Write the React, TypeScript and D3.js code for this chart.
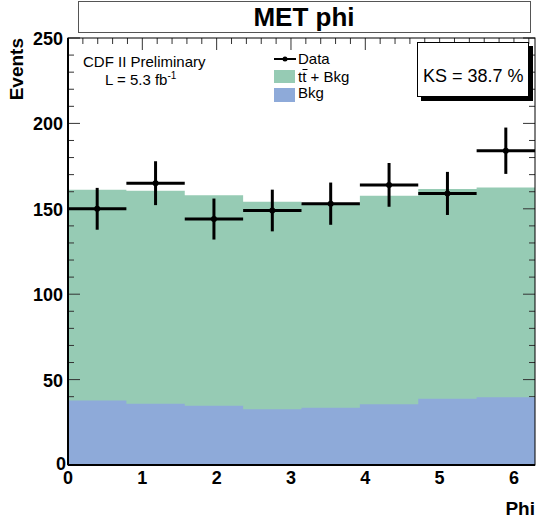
import React from "react";
import * as d3 from "d3";

const title = "MET phi";
const xLabel = "Phi";
const yLabel = "Events";
const nBins = 8;
const xMax = 2 * Math.PI;
const yMax = 250;
const bkg = [37.8, 35.9, 34.7, 32.7, 33.5, 35.5, 38.8, 39.6];
const ttBkg = [161.2, 160.6, 158.0, 154.1, 153.1, 157.6, 161.6, 162.5];
const dataCounts = [150, 165, 144, 149, 153, 164, 159, 184];
const xTicks = [0, 1, 2, 3, 4, 5, 6];
const yTicks = [0, 50, 100, 150, 200, 250];
const ksText = "KS = 38.7 %";

const W = 536;
const H = 524;
const L = 68, R = 535, T = 38, B = 465;
const FONT = "'Liberation Sans', Arial, Helvetica, sans-serif";
const GREEN = "#96cbb4";
const BLUE = "#8eaad9";

export default function App() {
  const x = d3.scaleLinear().domain([0, xMax]).range([L, R]);
  const y = d3.scaleLinear().domain([0, yMax]).range([B, T]);
  const bw = xMax / nBins;
  const edges = d3.range(nBins).map((i) => [i * bw, (i + 1) * bw]);

  const stepArea = (vals: number[]) => {
    const pts: [number, number][] = [];
    vals.forEach((v, i) => {
      pts.push([edges[i][0], v]);
      pts.push([edges[i][1], v]);
    });
    return d3
      .area<[number, number]>()
      .x((d) => x(d[0]))
      .y0(y(0))
      .y1((d) => y(d[1]))(pts) as string;
  };

  const xMinor = d3.range(0, xMax + 1e-9, 0.2).filter((v) => Math.abs(v - Math.round(v)) > 1e-6);
  const yMinor = d3.range(0, yMax + 1e-9, 10).filter((v) => v % 50 !== 0);

  const ticks: JSX.Element[] = [];
  xTicks.forEach((v, i) => {
    ticks.push(<line key={"xb" + i} x1={x(v)} x2={x(v)} y1={B} y2={B - 12} />);
    ticks.push(<line key={"xt" + i} x1={x(v)} x2={x(v)} y1={T} y2={T + 12} />);
  });
  xMinor.forEach((v, i) => {
    ticks.push(<line key={"xbm" + i} x1={x(v)} x2={x(v)} y1={B} y2={B - 6} />);
    ticks.push(<line key={"xtm" + i} x1={x(v)} x2={x(v)} y1={T} y2={T + 6} />);
  });
  yTicks.forEach((v, i) => {
    ticks.push(<line key={"yl" + i} x1={L} x2={L + 12} y1={y(v)} y2={y(v)} />);
    ticks.push(<line key={"yr" + i} x1={R} x2={R - 12} y1={y(v)} y2={y(v)} />);
  });
  yMinor.forEach((v, i) => {
    ticks.push(<line key={"ylm" + i} x1={L} x2={L + 6} y1={y(v)} y2={y(v)} />);
    ticks.push(<line key={"yrm" + i} x1={R} x2={R - 6} y1={y(v)} y2={y(v)} />);
  });

  return (
    <svg
      width={W}
      height={H}
      style={{ position: "absolute", left: 0, top: 0, background: "#fff" }}
      fontFamily={FONT}
    >
      {/* title box */}
      <rect x={78.5} y={1.5} width={452} height={31} fill="#fff" stroke="#555" strokeWidth={1} />
      <text x={304} y={26} textAnchor="middle" fontSize={26} fontWeight="bold">
        {title}
      </text>

      {/* signal + background */}
      <path d={stepArea(ttBkg)} fill={GREEN} />
      <g stroke="#333" strokeWidth={1}>{ticks}</g>
      <path d={stepArea(bkg)} fill={BLUE} />

      {/* frame */}
      <rect x={L} y={T} width={R - L} height={B - T} fill="none" stroke="#000" strokeWidth={1} />
      <line x1={L} x2={L} y1={T} y2={B} stroke="#000" strokeWidth={2} />
      <line x1={L} x2={R} y1={B} y2={B} stroke="#000" strokeWidth={2} />

      {/* data */}
      <g stroke="#000" strokeWidth={3}>
        {dataCounts.map((n, i) => {
          const cx = x((edges[i][0] + edges[i][1]) / 2);
          const e = Math.sqrt(n);
          return (
            <g key={"d" + i}>
              <line x1={x(edges[i][0])} x2={x(edges[i][1])} y1={y(n)} y2={y(n)} />
              <line x1={cx} x2={cx} y1={y(n - e)} y2={y(n + e)} />
              <circle cx={cx} cy={y(n)} r={3} fill="#000" stroke="none" />
            </g>
          );
        })}
      </g>

      {/* tick labels */}
      <g fontSize={18} fontWeight="bold">
        {xTicks.map((v) => (
          <text key={"xl" + v} x={x(v)} y={484} textAnchor="middle">
            {v}
          </text>
        ))}
        {yTicks.map((v) => (
          <text key={"yl" + v} x={v === 0 ? 66 : 63} y={v === 0 ? y(v) + 5 : y(v) + 7} textAnchor="end">
            {v}
          </text>
        ))}
      </g>

      {/* axis titles */}
      <text x={535} y={515} textAnchor="end" fontSize={19} fontWeight="bold">
        {xLabel}
      </text>
      <text
        transform="translate(23,38) rotate(-90)"
        textAnchor="end"
        fontSize={19}
        fontWeight="bold"
      >
        {yLabel}
      </text>

      {/* CDF label */}
      <text x={83} y={67} fontSize={15}>CDF II Preliminary</text>
      <text x={105} y={85} fontSize={15}>
        L = 5.3 fb<tspan fontSize={10} dy={-6}>-1</tspan>
      </text>

      {/* legend */}
      <line x1={274} x2={296} y1={59} y2={59} stroke="#000" strokeWidth={2} />
      <circle cx={285} cy={59} r={2.5} fill="#000" />
      <text x={298} y={64} fontSize={15}>Data</text>
      <rect x={274} y={70} width={21} height={13} fill={GREEN} />
      <text x={298} y={82} fontSize={15}>tt + Bkg</text>
      <line x1={302.5} x2={307.5} y1={69.5} y2={69.5} stroke="#000" strokeWidth={1} />
      <rect x={274} y={88} width={21} height={14} fill={BLUE} />
      <text x={298} y={98} fontSize={15}>Bkg</text>

      {/* KS box */}
      <rect x={421} y={46} width={112} height={55} fill="#000" />
      <rect x={417.5} y={42.5} width={111} height={54} fill="#fff" stroke="#000" strokeWidth={1} />
      <text x={423} y={82} fontSize={18}>{ksText}</text>
    </svg>
  );
}
